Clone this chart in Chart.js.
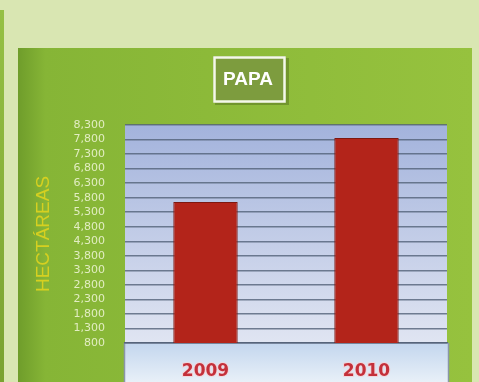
<!DOCTYPE html>
<html>
<head>
<meta charset="utf-8">
<script src="https://cdn.jsdelivr.net/npm/chart.js@4/dist/chart.umd.min.js"></script>
<style>
  html, body { margin: 0; padding: 0; background: #d9e6b2; }
  #wrap { width: 479px; height: 382px; position: relative; }
</style>
</head>
<body>
<div id="wrap"><canvas id="papaChart" width="479" height="382"></canvas></div>
<script>
// hectáreas sembradas de papa por año
const years = ['2009', '2010'];
const hectareas = [5650, 7850];
const yTicks = [800, 1300, 1800, 2300, 2800, 3300, 3800, 4300, 4800, 5300, 5800, 6300, 6800, 7300, 7800, 8300];
const chartTitle = 'PAPA';
const axisTitle = 'HECTÁREAS';

// background panels, plot fill, base band and the boxed title
const decor = {
  id: 'decor',
  beforeDraw(chart) {
    const { ctx, chartArea: a, width, height } = chart;
    ctx.save();
    ctx.fillStyle = '#d9e6b2';
    ctx.fillRect(0, 0, width, height);

    // thin strip on the far left
    let g = ctx.createLinearGradient(0, 10, 0, height);
    g.addColorStop(0, '#95c044');
    g.addColorStop(1, '#7aa231');
    ctx.fillStyle = g;
    ctx.fillRect(0, 10, 4, height - 10);

    // green panel
    g = ctx.createLinearGradient(18, 0, 472, 0);
    g.addColorStop(0, '#6f9d2b');
    g.addColorStop(0.06, '#86b536');
    g.addColorStop(1, '#96c23e');
    ctx.fillStyle = g;
    ctx.fillRect(18, 48, 454, height - 48);

    // plot fill
    g = ctx.createLinearGradient(0, a.top, 0, a.bottom);
    g.addColorStop(0, '#a3b3dc');
    g.addColorStop(1, '#e0e5f2');
    ctx.fillStyle = g;
    ctx.fillRect(a.left, a.top, a.right - a.left, a.bottom - a.top);

    // base band under the plot
    g = ctx.createLinearGradient(0, a.bottom, 0, height);
    g.addColorStop(0, '#c3d6ee');
    g.addColorStop(1, '#e8f0f8');
    ctx.fillStyle = g;
    ctx.fillRect(a.left - 1, a.bottom, a.right - a.left + 3, height - a.bottom);
    ctx.strokeStyle = '#8a96a8';
    ctx.lineWidth = 1.5;
    ctx.beginPath();
    ctx.moveTo(a.left - 0.5, a.bottom);
    ctx.lineTo(a.left - 0.5, height);
    ctx.moveTo(a.right + 1.5, a.bottom);
    ctx.lineTo(a.right + 1.5, height);
    ctx.stroke();

    // boxed title
    ctx.fillStyle = 'rgba(60,80,20,0.35)';
    ctx.fillRect(215, 58, 74, 47);
    ctx.fillStyle = '#7d9c3e';
    ctx.fillRect(213, 56, 73, 47);
    ctx.strokeStyle = '#f4f8ea';
    ctx.lineWidth = 2.5;
    ctx.strokeRect(214.5, 57.5, 70, 44);
    ctx.fillStyle = '#ffffff';
    ctx.font = 'bold 19px "Liberation Sans", Arial, sans-serif';
    ctx.textAlign = 'center';
    ctx.textBaseline = 'middle';
    ctx.fillText(chartTitle, 248, 80);
    ctx.restore();
  }
};

new Chart(document.getElementById('papaChart'), {
  type: 'bar',
  data: {
    labels: years,
    datasets: [{
      label: axisTitle,
      data: hectareas,
      backgroundColor: '#b3241a',
      borderColor: '#7e1810',
      borderWidth: 1,
      categoryPercentage: 1,
      barPercentage: 0.4
    }]
  },
  options: {
    responsive: false,
    animation: false,
    layout: { padding: { left: 32, top: 125, right: 32, bottom: 0 } },
    plugins: { legend: { display: false }, tooltip: { enabled: false } },
    scales: {
      x: {
        grid: { display: false },
        border: { display: true, color: '#56647a', width: 1.5 },
        afterFit: s => { s.height = 39; },
        ticks: {
          padding: 10,
          color: '#c4303a',
          textStrokeColor: 'rgba(245,210,215,0.85)',
          textStrokeWidth: 2,
          font: { family: '"DejaVu Sans", sans-serif', size: 17, weight: 'bold' }
        }
      },
      y: {
        min: yTicks[0],
        max: yTicks[yTicks.length - 1],
        afterBuildTicks: s => { s.ticks = yTicks.map(v => ({ value: v })); },
        afterFit: s => { s.width = 93; },
        border: { display: false },
        grid: { color: 'rgba(82,97,120,0.8)', lineWidth: 1.5, drawTicks: false },
        ticks: {
          autoSkip: false,
          padding: 20,
          color: '#e2edc2',
          font: { family: '"DejaVu Sans", sans-serif', size: 11, lineHeight: 1 },
          callback: v => v.toLocaleString('en-US')
        },
        title: {
          display: true,
          text: axisTitle,
          color: '#d6d020',
          padding: 0,
          font: { family: '"Liberation Sans", Arial, sans-serif', size: 19 }
        }
      }
    }
  },
  plugins: [decor]
});
</script>
</body>
</html>
